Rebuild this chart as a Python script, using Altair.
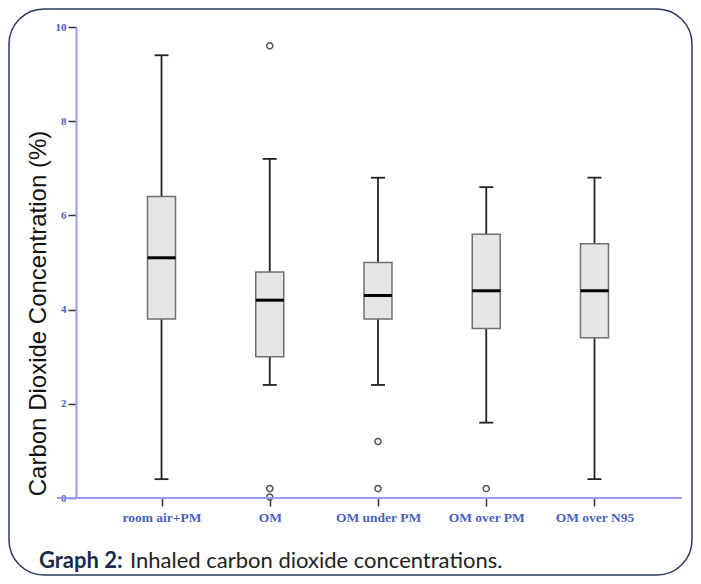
import altair as alt
import pandas as pd

categories = ["room air+PM", "OM", "OM under PM", "OM over PM", "OM over N95"]
whisker_low = [0.4, 2.4, 2.4, 1.6, 0.4]
q1 = [3.8, 3.0, 3.8, 3.6, 3.4]
median = [5.1, 4.2, 4.3, 4.4, 4.4]
q3 = [6.4, 4.8, 5.0, 5.6, 5.4]
whisker_high = [9.4, 7.2, 6.8, 6.6, 6.8]
outlier_group = ["OM", "OM", "OM", "OM under PM", "OM under PM", "OM over PM"]
outlier_value = [9.6, 0.2, 0.02, 1.2, 0.2, 0.2]
y_ticks = [0, 2, 4, 6, 8, 10]

box_df = pd.DataFrame({"cat": categories, "lo": whisker_low, "q1": q1,
                       "med": median, "q3": q3, "hi": whisker_high})
out_df = pd.DataFrame({"cat": outlier_group, "v": outlier_value})

W, H = 604, 471
label_blue = "#4b5fbf"
axis_blue = "#9a9af5"

xs = alt.Scale(type="point", domain=categories, padding=0.79)
ys = alt.Scale(domain=[0, 10], nice=False)

x_axis = alt.Axis(title=None, labelFont="Liberation Serif", labelFontWeight="bold",
                  labelFontSize=13.5, labelColor=label_blue, labelAngle=0,
                  domain=False, tickColor="#333", tickSize=8, tickWidth=1.5,
                  labelPadding=4)
y_axis = alt.Axis(title="Carbon Dioxide Concentration (%)", values=y_ticks,
                  labelFont="Liberation Serif", labelFontWeight="bold",
                  labelFontSize=11, labelColor=label_blue, grid=False,
                  domainColor=axis_blue, domainWidth=2, tickColor="#333",
                  tickSize=8, tickWidth=1.5, labelPadding=2,
                  titleFont="Liberation Sans", titleFontSize=24, titleFontWeight="normal",
                  titleColor="#111", titleAngle=270, titleX=-31, titleY=286,
                  titleAlign="center", titleBaseline="alphabetic")

X = alt.X("cat:N", scale=xs, axis=x_axis, sort=categories)
base = alt.Chart(box_df)

lower = base.mark_rule(color="#222", strokeWidth=1.8).encode(
    x=X, y=alt.Y("lo:Q", scale=ys, axis=y_axis), y2="q1:Q")
upper = base.mark_rule(color="#222", strokeWidth=1.8).encode(
    x=X, y=alt.Y("q3:Q", scale=ys), y2="hi:Q")
box = base.mark_bar(size=28, fill="#e6e6e6", stroke="#707070", strokeWidth=1.5).encode(
    x=X, y=alt.Y("q1:Q", scale=ys), y2="q3:Q")
med = base.mark_tick(size=28, thickness=3, color="#000", opacity=1).encode(
    x=X, y=alt.Y("med:Q", scale=ys))
cap_lo = base.mark_tick(size=14, thickness=1.8, color="#222", opacity=1).encode(
    x=X, y=alt.Y("lo:Q", scale=ys))
cap_hi = base.mark_tick(size=14, thickness=1.8, color="#222", opacity=1).encode(
    x=X, y=alt.Y("hi:Q", scale=ys))
outs = alt.Chart(out_df).mark_point(shape="circle", filled=False, size=38,
                                    color="#555", strokeWidth=1.5, opacity=1).encode(
    x=X, y=alt.Y("v:Q", scale=ys))

deco = alt.Chart(pd.DataFrame({"d": [0]}))
x_domain = deco.mark_rule(color=axis_blue, strokeWidth=2).encode(
    x=alt.value(-19), x2=alt.value(W + 2), y=alt.value(H))
border = deco.mark_rect(fillOpacity=0, stroke="#2b3a5c", strokeWidth=1.5,
                        cornerRadius=35, clip=False).encode(
    x=alt.value(-67), x2=alt.value(616), y=alt.value(-18), y2=alt.value(548))
cap_bold = deco.mark_text(text="Graph 2:", font="Lato", fontSize=22,
                          fontWeight="bold", color="#1c2b4d", align="left",
                          baseline="alphabetic").encode(
    x=alt.value(-37), y=alt.value(541))
cap_reg = deco.mark_text(text="Inhaled carbon dioxide concentrations.", font="Lato",
                         fontSize=22, color="#222", align="left",
                         baseline="alphabetic").encode(
    x=alt.value(54), y=alt.value(541))

chart = alt.layer(lower, upper, box, med, cap_lo, cap_hi, outs, x_domain,
                  border, cap_bold, cap_reg).properties(
    width=W, height=H,
    autosize=alt.AutoSizeParams(type="none"),
    padding={"left": 68, "top": 19, "right": 13, "bottom": 78},
    background="white",
).configure_view(stroke=None)

chart.save("out.html", embed_options={"renderer": "svg", "actions": False})
